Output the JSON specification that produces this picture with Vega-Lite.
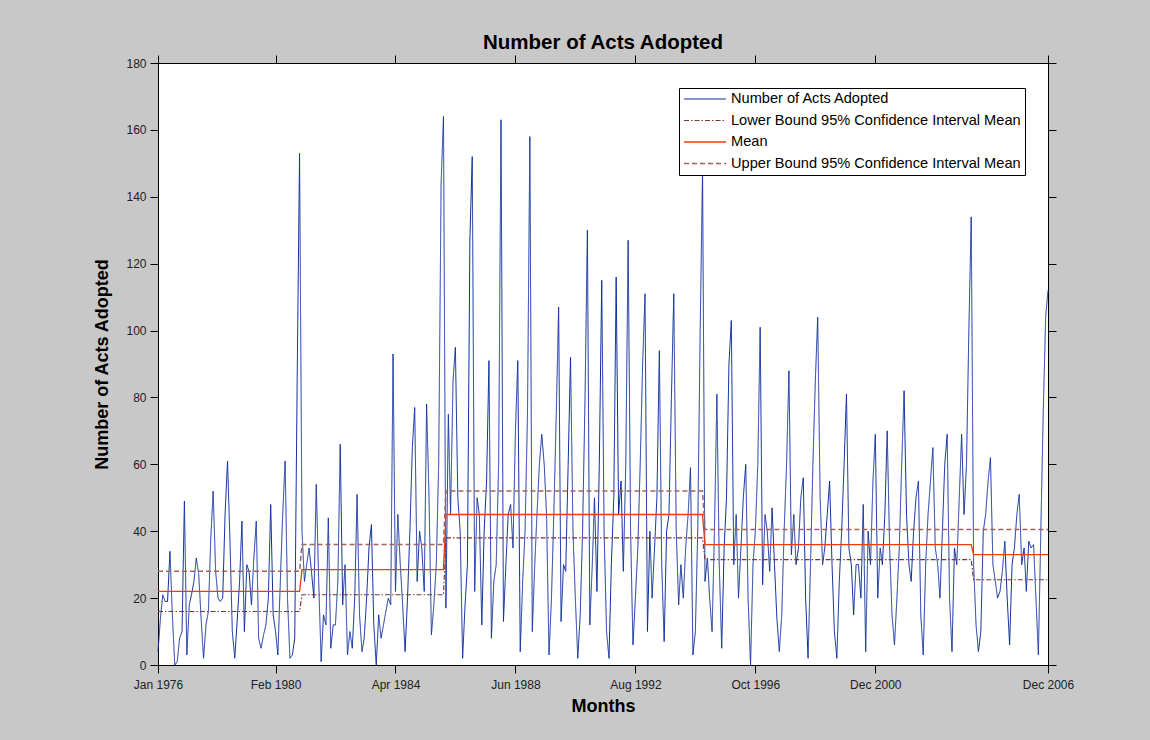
{
"$schema":"https://vega.github.io/schema/vega-lite/v6.json",
"width":890,"height":602,
"autosize":{"type":"none"},
"padding":{"left":158,"top":63,"right":102,"bottom":75},
"background":"#c8c8c8",
"title":{"text":"Number of Acts Adopted","fontSize":20.5,"font":"Liberation Sans","fontWeight":"bold","color":"black","offset":1},
"config":{
"view":{"stroke":"black","strokeWidth":1,"fill":"white"},
"axis":{"labelFont":"Liberation Sans","labelFontSize":12,"labelColor":"#222","tickColor":"black","domainColor":"black","tickSize":8,"grid":false,"titleFont":"Liberation Sans","titleFontSize":18,"titleFontWeight":"bold","titleColor":"black","labelPadding":4,"labelFlush":false,"labelOverlap":false}
},
"data":{"values":[
{"m":"1976-01-01","v":4,"s":"N"},{"m":"1976-02-01","v":14,"s":"N"},{"m":"1976-03-01","v":21,"s":"N"},{"m":"1976-04-01","v":19,"s":"N"},{"m":"1976-05-01","v":19,"s":"N"},{"m":"1976-06-01","v":34,"s":"N"},{"m":"1976-07-01","v":15,"s":"N"},{"m":"1976-08-01","v":0,"s":"N"},{"m":"1976-09-01","v":1,"s":"N"},{"m":"1976-10-01","v":8,"s":"N"},{"m":"1976-11-01","v":10,"s":"N"},{"m":"1976-12-01","v":49,"s":"N"},
{"m":"1977-01-01","v":3,"s":"N"},{"m":"1977-02-01","v":18,"s":"N"},{"m":"1977-03-01","v":21,"s":"N"},{"m":"1977-04-01","v":25,"s":"N"},{"m":"1977-05-01","v":32,"s":"N"},{"m":"1977-06-01","v":27,"s":"N"},{"m":"1977-07-01","v":14,"s":"N"},{"m":"1977-08-01","v":2,"s":"N"},{"m":"1977-09-01","v":12,"s":"N"},{"m":"1977-10-01","v":16,"s":"N"},{"m":"1977-11-01","v":38,"s":"N"},{"m":"1977-12-01","v":52,"s":"N"},
{"m":"1978-01-01","v":28,"s":"N"},{"m":"1978-02-01","v":20,"s":"N"},{"m":"1978-03-01","v":19,"s":"N"},{"m":"1978-04-01","v":20,"s":"N"},{"m":"1978-05-01","v":45,"s":"N"},{"m":"1978-06-01","v":61,"s":"N"},{"m":"1978-07-01","v":38,"s":"N"},{"m":"1978-08-01","v":10,"s":"N"},{"m":"1978-09-01","v":2,"s":"N"},{"m":"1978-10-01","v":13,"s":"N"},{"m":"1978-11-01","v":25,"s":"N"},{"m":"1978-12-01","v":43,"s":"N"},
{"m":"1979-01-01","v":10,"s":"N"},{"m":"1979-02-01","v":30,"s":"N"},{"m":"1979-03-01","v":28,"s":"N"},{"m":"1979-04-01","v":18,"s":"N"},{"m":"1979-05-01","v":32,"s":"N"},{"m":"1979-06-01","v":43,"s":"N"},{"m":"1979-07-01","v":8,"s":"N"},{"m":"1979-08-01","v":5,"s":"N"},{"m":"1979-09-01","v":9,"s":"N"},{"m":"1979-10-01","v":12,"s":"N"},{"m":"1979-11-01","v":20,"s":"N"},{"m":"1979-12-01","v":48,"s":"N"},
{"m":"1980-01-01","v":15,"s":"N"},{"m":"1980-02-01","v":10,"s":"N"},{"m":"1980-03-01","v":3,"s":"N"},{"m":"1980-04-01","v":25,"s":"N"},{"m":"1980-05-01","v":45,"s":"N"},{"m":"1980-06-01","v":61,"s":"N"},{"m":"1980-07-01","v":20,"s":"N"},{"m":"1980-08-01","v":2,"s":"N"},{"m":"1980-09-01","v":3,"s":"N"},{"m":"1980-10-01","v":8,"s":"N"},{"m":"1980-11-01","v":86,"s":"N"},{"m":"1980-12-01","v":153,"s":"N"},
{"m":"1981-01-01","v":40,"s":"N"},{"m":"1981-02-01","v":25,"s":"N"},{"m":"1981-03-01","v":30,"s":"N"},{"m":"1981-04-01","v":35,"s":"N"},{"m":"1981-05-01","v":28,"s":"N"},{"m":"1981-06-01","v":20,"s":"N"},{"m":"1981-07-01","v":54,"s":"N"},{"m":"1981-08-01","v":25,"s":"N"},{"m":"1981-09-01","v":1,"s":"N"},{"m":"1981-10-01","v":15,"s":"N"},{"m":"1981-11-01","v":12,"s":"N"},{"m":"1981-12-01","v":44,"s":"N"},
{"m":"1982-01-01","v":5,"s":"N"},{"m":"1982-02-01","v":12,"s":"N"},{"m":"1982-03-01","v":12,"s":"N"},{"m":"1982-04-01","v":25,"s":"N"},{"m":"1982-05-01","v":66,"s":"N"},{"m":"1982-06-01","v":18,"s":"N"},{"m":"1982-07-01","v":30,"s":"N"},{"m":"1982-08-01","v":3,"s":"N"},{"m":"1982-09-01","v":10,"s":"N"},{"m":"1982-10-01","v":5,"s":"N"},{"m":"1982-11-01","v":20,"s":"N"},{"m":"1982-12-01","v":51,"s":"N"},
{"m":"1983-01-01","v":15,"s":"N"},{"m":"1983-02-01","v":4,"s":"N"},{"m":"1983-03-01","v":8,"s":"N"},{"m":"1983-04-01","v":20,"s":"N"},{"m":"1983-05-01","v":35,"s":"N"},{"m":"1983-06-01","v":42,"s":"N"},{"m":"1983-07-01","v":12,"s":"N"},{"m":"1983-08-01","v":0,"s":"N"},{"m":"1983-09-01","v":15,"s":"N"},{"m":"1983-10-01","v":8,"s":"N"},{"m":"1983-11-01","v":12,"s":"N"},{"m":"1983-12-01","v":16,"s":"N"},
{"m":"1984-01-01","v":20,"s":"N"},{"m":"1984-02-01","v":18,"s":"N"},{"m":"1984-03-01","v":93,"s":"N"},{"m":"1984-04-01","v":22,"s":"N"},{"m":"1984-05-01","v":45,"s":"N"},{"m":"1984-06-01","v":30,"s":"N"},{"m":"1984-07-01","v":18,"s":"N"},{"m":"1984-08-01","v":4,"s":"N"},{"m":"1984-09-01","v":20,"s":"N"},{"m":"1984-10-01","v":40,"s":"N"},{"m":"1984-11-01","v":65,"s":"N"},{"m":"1984-12-01","v":77,"s":"N"},
{"m":"1985-01-01","v":25,"s":"N"},{"m":"1985-02-01","v":40,"s":"N"},{"m":"1985-03-01","v":35,"s":"N"},{"m":"1985-04-01","v":22,"s":"N"},{"m":"1985-05-01","v":78,"s":"N"},{"m":"1985-06-01","v":50,"s":"N"},{"m":"1985-07-01","v":9,"s":"N"},{"m":"1985-08-01","v":18,"s":"N"},{"m":"1985-09-01","v":30,"s":"N"},{"m":"1985-10-01","v":60,"s":"N"},{"m":"1985-11-01","v":144,"s":"N"},{"m":"1985-12-01","v":164,"s":"N"},
{"m":"1986-01-01","v":17,"s":"N"},{"m":"1986-02-01","v":75,"s":"N"},{"m":"1986-03-01","v":45,"s":"N"},{"m":"1986-04-01","v":85,"s":"N"},{"m":"1986-05-01","v":95,"s":"N"},{"m":"1986-06-01","v":50,"s":"N"},{"m":"1986-07-01","v":40,"s":"N"},{"m":"1986-08-01","v":2,"s":"N"},{"m":"1986-09-01","v":18,"s":"N"},{"m":"1986-10-01","v":30,"s":"N"},{"m":"1986-11-01","v":127,"s":"N"},{"m":"1986-12-01","v":152,"s":"N"},
{"m":"1987-01-01","v":22,"s":"N"},{"m":"1987-02-01","v":50,"s":"N"},{"m":"1987-03-01","v":45,"s":"N"},{"m":"1987-04-01","v":12,"s":"N"},{"m":"1987-05-01","v":40,"s":"N"},{"m":"1987-06-01","v":55,"s":"N"},{"m":"1987-07-01","v":91,"s":"N"},{"m":"1987-08-01","v":8,"s":"N"},{"m":"1987-09-01","v":25,"s":"N"},{"m":"1987-10-01","v":30,"s":"N"},{"m":"1987-11-01","v":60,"s":"N"},{"m":"1987-12-01","v":163,"s":"N"},
{"m":"1988-01-01","v":13,"s":"N"},{"m":"1988-02-01","v":30,"s":"N"},{"m":"1988-03-01","v":45,"s":"N"},{"m":"1988-04-01","v":48,"s":"N"},{"m":"1988-05-01","v":35,"s":"N"},{"m":"1988-06-01","v":70,"s":"N"},{"m":"1988-07-01","v":91,"s":"N"},{"m":"1988-08-01","v":4,"s":"N"},{"m":"1988-09-01","v":25,"s":"N"},{"m":"1988-10-01","v":40,"s":"N"},{"m":"1988-11-01","v":75,"s":"N"},{"m":"1988-12-01","v":158,"s":"N"},
{"m":"1989-01-01","v":10,"s":"N"},{"m":"1989-02-01","v":30,"s":"N"},{"m":"1989-03-01","v":45,"s":"N"},{"m":"1989-04-01","v":60,"s":"N"},{"m":"1989-05-01","v":69,"s":"N"},{"m":"1989-06-01","v":60,"s":"N"},{"m":"1989-07-01","v":45,"s":"N"},{"m":"1989-08-01","v":3,"s":"N"},{"m":"1989-09-01","v":20,"s":"N"},{"m":"1989-10-01","v":45,"s":"N"},{"m":"1989-11-01","v":75,"s":"N"},{"m":"1989-12-01","v":107,"s":"N"},
{"m":"1990-01-01","v":13,"s":"N"},{"m":"1990-02-01","v":30,"s":"N"},{"m":"1990-03-01","v":28,"s":"N"},{"m":"1990-04-01","v":60,"s":"N"},{"m":"1990-05-01","v":92,"s":"N"},{"m":"1990-06-01","v":40,"s":"N"},{"m":"1990-07-01","v":20,"s":"N"},{"m":"1990-08-01","v":2,"s":"N"},{"m":"1990-09-01","v":15,"s":"N"},{"m":"1990-10-01","v":40,"s":"N"},{"m":"1990-11-01","v":80,"s":"N"},{"m":"1990-12-01","v":130,"s":"N"},
{"m":"1991-01-01","v":12,"s":"N"},{"m":"1991-02-01","v":30,"s":"N"},{"m":"1991-03-01","v":50,"s":"N"},{"m":"1991-04-01","v":22,"s":"N"},{"m":"1991-05-01","v":60,"s":"N"},{"m":"1991-06-01","v":115,"s":"N"},{"m":"1991-07-01","v":40,"s":"N"},{"m":"1991-08-01","v":10,"s":"N"},{"m":"1991-09-01","v":2,"s":"N"},{"m":"1991-10-01","v":30,"s":"N"},{"m":"1991-11-01","v":50,"s":"N"},{"m":"1991-12-01","v":116,"s":"N"},
{"m":"1992-01-01","v":45,"s":"N"},{"m":"1992-02-01","v":55,"s":"N"},{"m":"1992-03-01","v":28,"s":"N"},{"m":"1992-04-01","v":60,"s":"N"},{"m":"1992-05-01","v":127,"s":"N"},{"m":"1992-06-01","v":40,"s":"N"},{"m":"1992-07-01","v":6,"s":"N"},{"m":"1992-08-01","v":20,"s":"N"},{"m":"1992-09-01","v":35,"s":"N"},{"m":"1992-10-01","v":60,"s":"N"},{"m":"1992-11-01","v":90,"s":"N"},{"m":"1992-12-01","v":111,"s":"N"},
{"m":"1993-01-01","v":10,"s":"N"},{"m":"1993-02-01","v":40,"s":"N"},{"m":"1993-03-01","v":20,"s":"N"},{"m":"1993-04-01","v":35,"s":"N"},{"m":"1993-05-01","v":50,"s":"N"},{"m":"1993-06-01","v":94,"s":"N"},{"m":"1993-07-01","v":30,"s":"N"},{"m":"1993-08-01","v":7,"s":"N"},{"m":"1993-09-01","v":40,"s":"N"},{"m":"1993-10-01","v":45,"s":"N"},{"m":"1993-11-01","v":80,"s":"N"},{"m":"1993-12-01","v":111,"s":"N"},
{"m":"1994-01-01","v":40,"s":"N"},{"m":"1994-02-01","v":18,"s":"N"},{"m":"1994-03-01","v":30,"s":"N"},{"m":"1994-04-01","v":20,"s":"N"},{"m":"1994-05-01","v":35,"s":"N"},{"m":"1994-06-01","v":45,"s":"N"},{"m":"1994-07-01","v":59,"s":"N"},{"m":"1994-08-01","v":3,"s":"N"},{"m":"1994-09-01","v":10,"s":"N"},{"m":"1994-10-01","v":40,"s":"N"},{"m":"1994-11-01","v":100,"s":"N"},{"m":"1994-12-01","v":148,"s":"N"},
{"m":"1995-01-01","v":25,"s":"N"},{"m":"1995-02-01","v":32,"s":"N"},{"m":"1995-03-01","v":20,"s":"N"},{"m":"1995-04-01","v":10,"s":"N"},{"m":"1995-05-01","v":40,"s":"N"},{"m":"1995-06-01","v":81,"s":"N"},{"m":"1995-07-01","v":30,"s":"N"},{"m":"1995-08-01","v":5,"s":"N"},{"m":"1995-09-01","v":35,"s":"N"},{"m":"1995-10-01","v":50,"s":"N"},{"m":"1995-11-01","v":90,"s":"N"},{"m":"1995-12-01","v":103,"s":"N"},
{"m":"1996-01-01","v":30,"s":"N"},{"m":"1996-02-01","v":45,"s":"N"},{"m":"1996-03-01","v":20,"s":"N"},{"m":"1996-04-01","v":35,"s":"N"},{"m":"1996-05-01","v":50,"s":"N"},{"m":"1996-06-01","v":60,"s":"N"},{"m":"1996-07-01","v":20,"s":"N"},{"m":"1996-08-01","v":0,"s":"N"},{"m":"1996-09-01","v":30,"s":"N"},{"m":"1996-10-01","v":40,"s":"N"},{"m":"1996-11-01","v":60,"s":"N"},{"m":"1996-12-01","v":101,"s":"N"},
{"m":"1997-01-01","v":24,"s":"N"},{"m":"1997-02-01","v":45,"s":"N"},{"m":"1997-03-01","v":40,"s":"N"},{"m":"1997-04-01","v":28,"s":"N"},{"m":"1997-05-01","v":47,"s":"N"},{"m":"1997-06-01","v":30,"s":"N"},{"m":"1997-07-01","v":14,"s":"N"},{"m":"1997-08-01","v":4,"s":"N"},{"m":"1997-09-01","v":15,"s":"N"},{"m":"1997-10-01","v":40,"s":"N"},{"m":"1997-11-01","v":60,"s":"N"},{"m":"1997-12-01","v":88,"s":"N"},
{"m":"1998-01-01","v":33,"s":"N"},{"m":"1998-02-01","v":45,"s":"N"},{"m":"1998-03-01","v":30,"s":"N"},{"m":"1998-04-01","v":35,"s":"N"},{"m":"1998-05-01","v":50,"s":"N"},{"m":"1998-06-01","v":56,"s":"N"},{"m":"1998-07-01","v":20,"s":"N"},{"m":"1998-08-01","v":2,"s":"N"},{"m":"1998-09-01","v":30,"s":"N"},{"m":"1998-10-01","v":60,"s":"N"},{"m":"1998-11-01","v":85,"s":"N"},{"m":"1998-12-01","v":104,"s":"N"},
{"m":"1999-01-01","v":50,"s":"N"},{"m":"1999-02-01","v":30,"s":"N"},{"m":"1999-03-01","v":35,"s":"N"},{"m":"1999-04-01","v":45,"s":"N"},{"m":"1999-05-01","v":55,"s":"N"},{"m":"1999-06-01","v":30,"s":"N"},{"m":"1999-07-01","v":10,"s":"N"},{"m":"1999-08-01","v":2,"s":"N"},{"m":"1999-09-01","v":25,"s":"N"},{"m":"1999-10-01","v":40,"s":"N"},{"m":"1999-11-01","v":60,"s":"N"},{"m":"1999-12-01","v":81,"s":"N"},
{"m":"2000-01-01","v":35,"s":"N"},{"m":"2000-02-01","v":30,"s":"N"},{"m":"2000-03-01","v":15,"s":"N"},{"m":"2000-04-01","v":30,"s":"N"},{"m":"2000-05-01","v":30,"s":"N"},{"m":"2000-06-01","v":20,"s":"N"},{"m":"2000-07-01","v":48,"s":"N"},{"m":"2000-08-01","v":4,"s":"N"},{"m":"2000-09-01","v":40,"s":"N"},{"m":"2000-10-01","v":30,"s":"N"},{"m":"2000-11-01","v":55,"s":"N"},{"m":"2000-12-01","v":69,"s":"N"},
{"m":"2001-01-01","v":20,"s":"N"},{"m":"2001-02-01","v":35,"s":"N"},{"m":"2001-03-01","v":30,"s":"N"},{"m":"2001-04-01","v":45,"s":"N"},{"m":"2001-05-01","v":70,"s":"N"},{"m":"2001-06-01","v":35,"s":"N"},{"m":"2001-07-01","v":15,"s":"N"},{"m":"2001-08-01","v":6,"s":"N"},{"m":"2001-09-01","v":20,"s":"N"},{"m":"2001-10-01","v":35,"s":"N"},{"m":"2001-11-01","v":60,"s":"N"},{"m":"2001-12-01","v":82,"s":"N"},
{"m":"2002-01-01","v":45,"s":"N"},{"m":"2002-02-01","v":30,"s":"N"},{"m":"2002-03-01","v":25,"s":"N"},{"m":"2002-04-01","v":40,"s":"N"},{"m":"2002-05-01","v":50,"s":"N"},{"m":"2002-06-01","v":55,"s":"N"},{"m":"2002-07-01","v":15,"s":"N"},{"m":"2002-08-01","v":3,"s":"N"},{"m":"2002-09-01","v":30,"s":"N"},{"m":"2002-10-01","v":45,"s":"N"},{"m":"2002-11-01","v":55,"s":"N"},{"m":"2002-12-01","v":65,"s":"N"},
{"m":"2003-01-01","v":35,"s":"N"},{"m":"2003-02-01","v":30,"s":"N"},{"m":"2003-03-01","v":20,"s":"N"},{"m":"2003-04-01","v":40,"s":"N"},{"m":"2003-05-01","v":60,"s":"N"},{"m":"2003-06-01","v":69,"s":"N"},{"m":"2003-07-01","v":20,"s":"N"},{"m":"2003-08-01","v":4,"s":"N"},{"m":"2003-09-01","v":35,"s":"N"},{"m":"2003-10-01","v":30,"s":"N"},{"m":"2003-11-01","v":50,"s":"N"},{"m":"2003-12-01","v":69,"s":"N"},
{"m":"2004-01-01","v":45,"s":"N"},{"m":"2004-02-01","v":60,"s":"N"},{"m":"2004-03-01","v":99,"s":"N"},{"m":"2004-04-01","v":134,"s":"N"},{"m":"2004-05-01","v":30,"s":"N"},{"m":"2004-06-01","v":12,"s":"N"},{"m":"2004-07-01","v":4,"s":"N"},{"m":"2004-08-01","v":10,"s":"N"},{"m":"2004-09-01","v":40,"s":"N"},{"m":"2004-10-01","v":45,"s":"N"},{"m":"2004-11-01","v":55,"s":"N"},{"m":"2004-12-01","v":62,"s":"N"},
{"m":"2005-01-01","v":30,"s":"N"},{"m":"2005-02-01","v":25,"s":"N"},{"m":"2005-03-01","v":20,"s":"N"},{"m":"2005-04-01","v":22,"s":"N"},{"m":"2005-05-01","v":28,"s":"N"},{"m":"2005-06-01","v":37,"s":"N"},{"m":"2005-07-01","v":20,"s":"N"},{"m":"2005-08-01","v":6,"s":"N"},{"m":"2005-09-01","v":30,"s":"N"},{"m":"2005-10-01","v":35,"s":"N"},{"m":"2005-11-01","v":45,"s":"N"},{"m":"2005-12-01","v":51,"s":"N"},
{"m":"2006-01-01","v":30,"s":"N"},{"m":"2006-02-01","v":35,"s":"N"},{"m":"2006-03-01","v":22,"s":"N"},{"m":"2006-04-01","v":37,"s":"N"},{"m":"2006-05-01","v":35,"s":"N"},{"m":"2006-06-01","v":36,"s":"N"},{"m":"2006-07-01","v":20,"s":"N"},{"m":"2006-08-01","v":3,"s":"N"},{"m":"2006-09-01","v":40,"s":"N"},{"m":"2006-10-01","v":75,"s":"N"},{"m":"2006-11-01","v":104,"s":"N"},{"m":"2006-12-01","v":112,"s":"N"},
{"m":"1976-01-01","v":16,"s":"L"},{"m":"1980-12-01","v":16,"s":"L"},{"m":"1981-01-01","v":21,"s":"L"},{"m":"1985-12-01","v":21,"s":"L"},{"m":"1986-01-01","v":38,"s":"L"},{"m":"1994-12-01","v":38,"s":"L"},{"m":"1995-01-01","v":31.5,"s":"L"},{"m":"2004-04-01","v":31.5,"s":"L"},{"m":"2004-05-01","v":25.5,"s":"L"},{"m":"2006-12-01","v":25.5,"s":"L"},
{"m":"1976-01-01","v":22,"s":"M"},{"m":"1980-12-01","v":22,"s":"M"},{"m":"1981-01-01","v":28.5,"s":"M"},{"m":"1985-12-01","v":28.5,"s":"M"},{"m":"1986-01-01","v":45,"s":"M"},{"m":"1994-12-01","v":45,"s":"M"},{"m":"1995-01-01","v":36,"s":"M"},{"m":"2004-04-01","v":36,"s":"M"},{"m":"2004-05-01","v":33,"s":"M"},{"m":"2006-12-01","v":33,"s":"M"},
{"m":"1976-01-01","v":28,"s":"U"},{"m":"1980-12-01","v":28,"s":"U"},{"m":"1981-01-01","v":36,"s":"U"},{"m":"1985-12-01","v":36,"s":"U"},{"m":"1986-01-01","v":52,"s":"U"},{"m":"1994-12-01","v":52,"s":"U"},{"m":"1995-01-01","v":40.5,"s":"U"},{"m":"2004-04-01","v":40.5,"s":"U"},{"m":"2004-05-01","v":40.5,"s":"U"},{"m":"2006-12-01","v":40.5,"s":"U"}
]},
"layer":[
{"mark":{"type":"line"},
"encoding":{
"x":{"field":"m","type":"temporal","scale":{"type":"utc","domain":[{"year":1976,"month":1,"date":1,"utc":true},{"year":2006,"month":12,"date":1,"utc":true}]},
"axis":{"title":"Months","format":"%b %Y","titlePadding":7,"labelPadding":6,"values":[{"year":1976,"month":1,"date":1,"utc":true},{"year":1980,"month":2,"date":1,"utc":true},{"year":1984,"month":4,"date":1,"utc":true},{"year":1988,"month":6,"date":1,"utc":true},{"year":1992,"month":8,"date":1,"utc":true},{"year":1996,"month":10,"date":1,"utc":true},{"year":2000,"month":12,"date":1,"utc":true},{"year":2006,"month":12,"date":1,"utc":true}]}},
"y":{"field":"v","type":"quantitative","scale":{"domain":[0,180],"nice":false},"axis":{"title":"Number of Acts Adopted","values":[0,20,40,60,80,100,120,140,160,180],"titlePadding":14}},
"color":{"field":"s","type":"nominal","scale":{"domain":["N","L","M","U"],"range":["#0c2c9c","#7a3535","#f03c0c","#a0645c"]},
"legend":{"title":null,"orient":"none","legendX":521,"legendY":25,"symbolType":"stroke","symbolSize":1764,"clipHeight":14,"rowPadding":6.5,"labelFontSize":14.6,"labelFont":"Liberation Sans","labelColor":"black","strokeColor":"black","fillColor":"white","padding":4,"labelOffset":4,"labelLimit":400,
"labelExpr":"datum.label == 'N' ? 'Number of Acts Adopted' : datum.label == 'L' ? 'Lower Bound 95% Confidence Interval Mean' : datum.label == 'M' ? 'Mean' : 'Upper Bound 95% Confidence Interval Mean'"}},
"strokeDash":{"field":"s","type":"nominal","scale":{"domain":["N","L","M","U"],"range":[[1,0],[5,2,1.5,2],[1,0],[5,3]]},
"legend":{"title":null,"orient":"none","legendX":521,"legendY":25,"symbolType":"stroke","symbolSize":1764,"clipHeight":14,"rowPadding":6.5,"labelFontSize":14.6,"labelFont":"Liberation Sans","labelColor":"black","strokeColor":"black","fillColor":"white","padding":4,"labelOffset":4,"labelLimit":400,
"labelExpr":"datum.label == 'N' ? 'Number of Acts Adopted' : datum.label == 'L' ? 'Lower Bound 95% Confidence Interval Mean' : datum.label == 'M' ? 'Mean' : 'Upper Bound 95% Confidence Interval Mean'"}},
"strokeWidth":{"field":"s","type":"ordinal","scale":{"domain":["N","L","M","U"],"range":[1,1.5,2,1.5]},
"legend":{"title":null,"orient":"none","legendX":521,"legendY":25,"symbolType":"stroke","symbolSize":1764,"clipHeight":14,"rowPadding":6.5,"labelFontSize":14.6,"labelFont":"Liberation Sans","labelColor":"black","strokeColor":"black","fillColor":"white","padding":4,"labelOffset":4,"labelLimit":400,
"labelExpr":"datum.label == 'N' ? 'Number of Acts Adopted' : datum.label == 'L' ? 'Lower Bound 95% Confidence Interval Mean' : datum.label == 'M' ? 'Mean' : 'Upper Bound 95% Confidence Interval Mean'"}}
}},
{"transform":[{"filter":"datum.s == 'M'"}],
"mark":{"type":"point","opacity":0},
"encoding":{
"x":{"field":"m","type":"temporal","axis":{"orient":"top","labels":false,"title":null,"values":[{"year":1976,"month":1,"date":1,"utc":true},{"year":1980,"month":2,"date":1,"utc":true},{"year":1984,"month":4,"date":1,"utc":true},{"year":1988,"month":6,"date":1,"utc":true},{"year":1992,"month":8,"date":1,"utc":true},{"year":1996,"month":10,"date":1,"utc":true},{"year":2000,"month":12,"date":1,"utc":true},{"year":2006,"month":12,"date":1,"utc":true}]}},
"y":{"field":"v","type":"quantitative","axis":{"orient":"right","labels":false,"title":null,"values":[0,20,40,60,80,100,120,140,160,180]}}
}}
],
"resolve":{"axis":{"x":"independent","y":"independent"}}
}
